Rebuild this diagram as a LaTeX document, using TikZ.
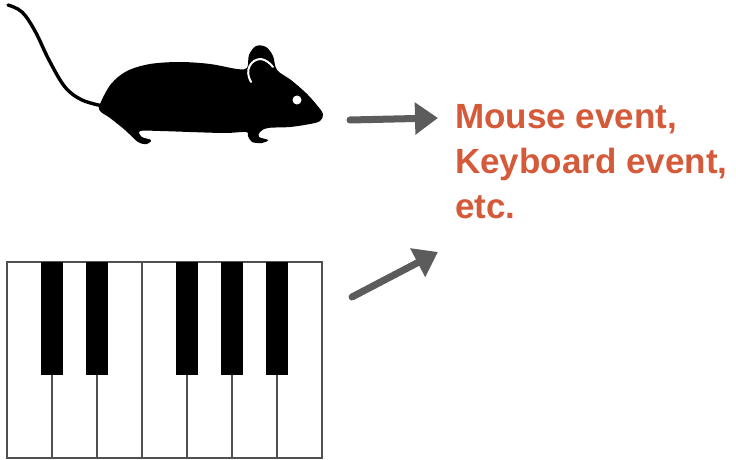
\documentclass[tikz,border=0pt]{standalone}
\usepackage{fontspec}
\setmainfont{Liberation Sans}
\usetikzlibrary{arrows.meta, positioning}

\definecolor{eventred}{RGB}{212,90,58}
\definecolor{arrowgray}{RGB}{92,92,92}
\definecolor{keyline}{RGB}{80,80,80}

\begin{document}
\begin{tikzpicture}[x=1pt, y=-1pt, >={Triangle[length=23pt,width=31pt]}]
  \tikzset{
    wkey/.style={
      draw=keyline,
      line width=1.2pt,
      fill=white,
      rectangle,
      inner sep=0pt,
      outer sep=0pt,
      minimum width=45pt,
      minimum height=196pt},
    bkey/.style={
      fill=black,
      rectangle,
      inner sep=0pt,
      outer sep=0pt,
      anchor=north,
      minimum width=22pt,
      minimum height=113pt},
    events/.style={
      text=eventred,
      align=left,
      inner sep=0pt,
      font=\fontsize{35}{45}\selectfont\bfseries},
    sketch/.style={
      draw=arrowgray,
      line width=7pt,
      line cap=round}}

  \useasboundingbox (0,0) rectangle (736,460);

  % mouse: tail, body, ear line and eye
  \draw[line width=3.4pt, line cap=round] plot[smooth, tension=0.6]
    coordinates {(8,5) (22,12) (35,31) (49,60) (65,87) (82,100) (103,106)};
  \fill plot[smooth cycle, tension=0.55] coordinates {
    (100,104) (111,84) (127,71) (150,64) (180,62) (210,64) (237,69)
    (247,68) (249,55) (256,46) (266,47) (273,56) (277,70) (291,80)
    (306,93) (316,104) (323,114) (320,121) (310,124) (290,127) (268,128)
    (260,132) (259,137) (268,140) (262,143) (252,142) (248,136)
    (246,132) (225,133) (190,132) (160,131) (140,131) (142,137)
    (151,140) (147,144) (138,142) (125,130) (110,118) (100,111)};
  \draw[white, line width=2pt, line cap=round]
    (251,82) .. controls (244,70) and (251,59) .. (261,59)
    .. controls (266,60) and (270,63) .. (273,67);
  \fill[white] (297,100) circle (4.5);

  % keyboard
  \node[wkey] (w1) at (29.5,360) {};
  \node[wkey, right=0pt of w1] (w2) {};
  \node[wkey, right=0pt of w2] (w3) {};
  \node[wkey, right=0pt of w3] (w4) {};
  \node[wkey, right=0pt of w4] (w5) {};
  \node[wkey, right=0pt of w5] (w6) {};
  \node[wkey, right=0pt of w6] (w7) {};

  \node[bkey] (b1) at (w1.north east) {};
  \node[bkey] (b2) at (w2.north east) {};
  \node[bkey] (b3) at (w4.north east) {};
  \node[bkey] (b4) at (w5.north east) {};
  \node[bkey] (b5) at (w6.north east) {};

  % events (base is the last line)
  \node[events, anchor=base west] (ev) at (455,218.5)
    {Mouse event,\\Keyboard event,\\etc.};

  \coordinate (mfrom) at (350,120);
  \coordinate (mto) at (438,118);
  \coordinate (kfrom) at (352,297);
  \coordinate (kto) at (438,252);

  \path[sketch, ->] (mfrom) -- (mto);
  \path[sketch, ->] (kfrom) -- (kto);

\end{tikzpicture}
\end{document}
